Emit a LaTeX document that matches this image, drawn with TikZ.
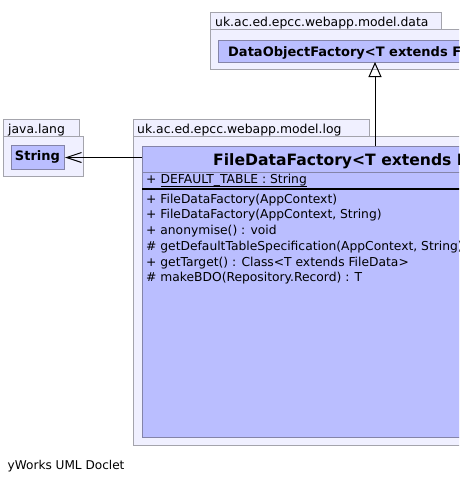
\documentclass[tikz,border=0pt]{standalone}
\usepackage{fontspec}
\setmainfont{DejaVu Sans}
\usetikzlibrary{arrows.meta}
\definecolor{pkgfill}{HTML}{F0F0FF}
\definecolor{pkgdraw}{HTML}{A4A4AC}
\definecolor{clsfill}{HTML}{BABEFF}
\definecolor{clsdraw}{HTML}{8484A8}
\begin{document}
\begin{tikzpicture}[x=1pt,y=-1pt,
  pkgbox/.style={draw=pkgdraw,fill=pkgfill,line width=1pt},
  clsbox/.style={draw=clsdraw,fill=clsfill,line width=1pt},
  pkglabel/.style={anchor=base west,inner sep=0pt,font=\fontsize{12.4}{14}\selectfont},
  member/.style={anchor=base west,inner sep=0pt,font=\fontsize{12.3}{14}\selectfont},
  title/.style={anchor=base west,inner sep=0pt,font=\fontsize{15.6}{18}\selectfont\bfseries},
  cname/.style={anchor=base west,inner sep=0pt,font=\fontsize{13}{15}\selectfont\bfseries}]
\useasboundingbox (0,0) rectangle (459,483);
\clip (0,0) rectangle (459,483);
\fill[white] (0,0) rectangle (459,483);
% data package
\draw[pkgbox] (210,12) rectangle (441,29);
\draw[pkgbox] (210,29) rectangle (600,69);
\node[pkglabel] (pdata) at (215,26) {uk.ac.ed.epcc.webapp.model.data};
\draw[clsbox] (218,40) rectangle (600,62);
\node[cname] (dof) at (228,56) {DataObjectFactory<T extends FileData>};
\coordinate (dofs) at (375,62);
% java.lang package
\draw[pkgbox] (3,119) rectangle (79,136);
\draw[pkgbox] (3,136) rectangle (83,176);
\node[pkglabel] (pjava) at (8,133.3) {java.lang};
\node[clsbox,minimum width=53pt,minimum height=24pt,inner sep=0pt,anchor=north west] (str) at (11,145) {};
\node[cname,anchor=base] (strname) at (37.5,160.7) {String};
% log package
\draw[pkgbox] (133,119) rectangle (369,136);
\draw[pkgbox] (133,136) rectangle (600,445);
\node[pkglabel] (plog) at (137,133.3) {uk.ac.ed.epcc.webapp.model.log};
\node[clsbox,minimum width=458pt,minimum height=291pt,inner sep=0pt,anchor=north west] (cls) at (142,146) {};
\draw[clsdraw,line width=1pt] (142,172) -- (600,172);
\draw[black,line width=2pt] (142,188.5) -- (600,188.5);
\node[title] (ttl) at (213,165) {FileDataFactory<T extends FileData>};
\node[member] (plus) at (146,183.5) {+};
\node[member] (attr) at (160.5,183.5) {DEFAULT\_TABLE : String};
\draw[black,line width=0.9pt] ([yshift=-2.5pt]attr.base west) -- ([yshift=-2.5pt]attr.base east);
\node[member] (m1) at (146,203.3) {+ FileDataFactory(AppContext)};
\node[member] (m2) at (146,218.8) {+ FileDataFactory(AppContext, String)};
\node[member] (m3) at (146,234.3) {+ anonymise() : void};
\node[member] (m4) at (146,250.3) {\# getDefaultTableSpecification(AppContext, String)};
\node[member] (m5) at (146,266.3) {+ getTarget() : Class<T extends FileData>};
\node[member] (m6) at (146,281.8) {\# makeBDO(Repository.Record) : T};
% connectors
\draw[line width=1pt,-{Triangle[open,length=15pt,width=13pt]}] (cls.north -| dofs) -- (dofs);
\draw[line width=1pt,{Straight Barb[length=15pt,width=10pt]}-] (str.east) -- (str.east -| cls.west);
\node[anchor=base west,inner sep=0pt,font=\fontsize{12.1}{14}\selectfont] (doclet) at (7.5,469.3) {yWorks UML Doclet};
\end{tikzpicture}
\end{document}
